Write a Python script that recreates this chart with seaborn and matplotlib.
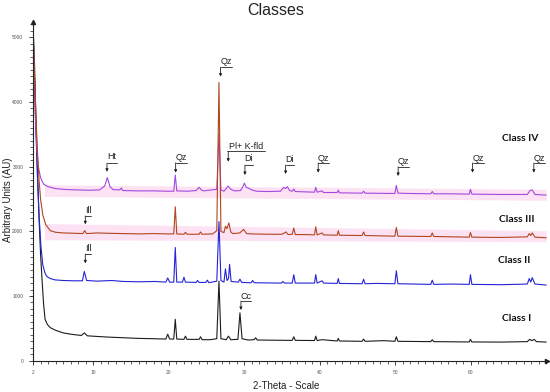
import numpy as np
import pandas as pd
import seaborn as sns
import matplotlib.pyplot as plt
from matplotlib.ticker import MultipleLocator, FixedLocator

# ---------------- data (2-theta, counts) ----------------
class1 = [(2.0,5200),(2.2,4600),(2.4,3700),(2.6,2900),(2.8,2200),(3.0,1650),(3.2,1250),(3.4,880),
          (3.6,640),(3.9,560),(4.3,510),(5.0,470),(6.0,430),(7.0,410),(8.4,390),(8.8,430),(9.2,385),
          (10.5,375),(12.0,365),(14.0,355),(16.0,345),(18.0,340),(19.6,335),(19.85,410),(20.1,335),
          (20.65,335),(20.85,640),(21.05,335),(22.0,330),(22.2,380),(22.4,330),(24.0,330),(24.2,370),
          (24.4,325),(25.5,325),(26.35,340),(26.64,1230),(26.9,340),(27.6,325),(27.9,380),(28.2,325),
          (29.15,330),(29.42,740),(29.7,340),(30.5,320),(31.3,325),(31.5,355),(31.7,320),(35.5,315),
          (36.35,315),(36.55,370),(36.75,315),(39.3,312),(39.46,380),(39.65,312),(40.3,325),(42.3,305),
          (42.45,345),(42.6,305),(45.6,300),(45.8,335),(46.0,300),(48.5,310),(49.95,300),(50.14,370),
          (50.35,300),(54.7,295),(54.9,325),(55.1,295),(59.8,290),(59.96,330),(60.15,290),(64.0,288),
          (67.5,295),(67.8,330),(68.1,310),(68.4,330),(68.7,295),(70.0,288)]

class2 = [(2.0,5150),(2.2,4300),(2.4,3500),(2.6,2800),(2.8,2250),(3.06,1760),(3.3,1480),(3.6,1350),
          (3.85,1300),(4.3,1270),(4.9,1250),(6.0,1240),(7.5,1235),(8.55,1235),(8.8,1380),(9.1,1240),
          (10.5,1230),(12.4,1240),(14.0,1225),(16.0,1220),(18.2,1225),(19.6,1215),(19.85,1280),(20.1,1215),
          (20.65,1215),(20.85,1750),(21.05,1215),(21.8,1215),(22.0,1290),(22.2,1215),(23.6,1210),(23.8,1240),
          (24.0,1210),(24.9,1210),(25.1,1245),(25.3,1205),(26.35,1230),(26.64,2150),(26.9,1240),(27.3,1215),
          (27.5,1420),(27.7,1240),(27.9,1270),(28.05,1490),(28.25,1225),(29.2,1215),(29.42,1260),(29.65,1210),
          (30.9,1205),(31.1,1240),(31.3,1205),(34.9,1200),(35.1,1225),(35.3,1200),(36.35,1200),(36.55,1330),
          (36.75,1200),(39.3,1200),(39.46,1330),(39.65,1200),(40.3,1235),(40.5,1200),(42.3,1195),(42.45,1270),
          (42.6,1195),(45.6,1190),(45.8,1260),(46.0,1190),(47.5,1195),(49.95,1190),(50.14,1390),(50.35,1190),
          (54.7,1180),(54.9,1245),(55.1,1180),(57.4,1185),(59.8,1180),(59.96,1330),(60.15,1180),(64.0,1175),
          (67.5,1185),(67.75,1270),(67.95,1215),(68.15,1285),(68.5,1185),(70.0,1170)]

class3 = [(2.0,5200),(2.2,4400),(2.4,3750),(2.6,3200),(2.8,2800),(3.0,2500),(3.3,2250),(3.7,2100),
          (4.3,2010),(5.0,1985),(6.0,1975),(7.5,1970),(8.6,1965),(8.85,2010),(9.1,1965),(10.5,1975),
          (12.0,1970),(14.0,1965),(16.0,1960),(18.0,1965),(19.8,1960),(20.65,1960),(20.85,2380),(21.05,1960),
          (22.0,1955),(22.2,1985),(22.4,1955),(24.0,1955),(24.2,1990),(24.4,1955),(25.8,1960),(26.35,2010),
          (26.64,4300),(26.9,2000),(27.3,1980),(27.5,2080),(27.7,2040),(27.95,2130),(28.2,1990),(28.5,1965),
          (29.4,1975),(29.9,2030),(30.3,1965),(31.0,1960),(33.0,1955),(35.0,1955),(35.5,1990),(35.8,1950),
          (36.35,1955),(36.55,2050),(36.75,1950),(38.0,1950),(39.3,1945),(39.46,2070),(39.65,1945),(40.3,1975),
          (40.5,1945),(42.3,1940),(42.45,2010),(42.6,1940),(45.6,1935),(45.8,1990),(46.0,1935),(49.95,1925),
          (50.14,2060),(50.35,1925),(54.7,1920),(54.9,1975),(55.1,1920),(59.8,1910),(59.96,1980),(60.15,1910),
          (64.0,1905),(67.5,1915),(67.75,1965),(67.95,1935),(68.15,1975),(68.5,1910),(70.0,1900)]

class4 = [(2.0,5200),(2.15,4500),(2.3,3800),(2.5,3300),(2.7,3000),(3.0,2830),(3.4,2730),(4.0,2690),
          (5.0,2660),(6.5,2645),(8.0,2640),(9.5,2635),(10.8,2640),(11.5,2700),(11.85,2830),(12.2,2690),
          (12.6,2645),(13.5,2640),(13.7,2670),(13.9,2630),(16.0,2625),(18.0,2625),(19.8,2620),(20.65,2620),
          (20.85,2870),(21.05,2625),(22.5,2620),(23.6,2630),(24.0,2680),(24.3,2640),(24.6,2625),(26.35,2650),
          (26.64,3500),(26.9,2640),(27.3,2620),(27.6,2660),(27.85,2700),(28.2,2650),(28.7,2625),(29.5,2630),
          (29.8,2690),(30.0,2745),(30.25,2680),(30.6,2665),(31.0,2640),(31.6,2620),(33.0,2615),(34.8,2620),
          (35.2,2680),(35.45,2660),(35.7,2690),(36.0,2630),(36.35,2620),(36.55,2655),(36.75,2615),(38.0,2610),
          (39.3,2605),(39.46,2680),(39.65,2605),(40.3,2625),(40.5,2600),(42.3,2600),(42.45,2635),(42.6,2595),
          (45.6,2590),(45.8,2620),(46.0,2590),(49.95,2585),(50.14,2710),(50.35,2590),(52.0,2585),(54.7,2580),
          (54.9,2615),(55.1,2580),(57.4,2580),(59.8,2575),(59.96,2650),(60.15,2575),(64.0,2570),(67.5,2570),
          (67.85,2630),(68.15,2640),(68.5,2570),(70.0,2560)]

class_names = ["Class I", "Class II", "Class III", "Class IV"]
class_colors = ["#1c1c1c", "#2424d8", "#b0461e", "#a448e0"]

# pink highlight bands behind class IV and class III traces
band_x = [3.5, 70.0]
band4_lo, band4_hi = [2540, 2480], [2720, 2650]
band3_lo, band3_hi = [1870, 1840], [2120, 2010]

# phase annotations: label, x, text y, elbow y, tip y, elbow length
annotations = [("Ht", 11.8, 3153, 3051, 2921, 1.3),
               ("Qz", 20.9, 3144, 3060, 2906, 1.46),
               ("Qz", 26.85, 4621, 4535, 4390, 1.46),
               ("Di", 30.08, 3128, 3025, 2870, 1.06),
               ("Di", 35.47, 3117, 3025, 2886, 1.06),
               ("Qz", 39.79, 3133, 3056, 2906, 1.46),
               ("Qz", 50.38, 3076, 2998, 2855, 1.46),
               ("Qz", 60.24, 3133, 3056, 2906, 1.46),
               ("Qz", 68.36, 3133, 3056, 2906, 1.46),
               ("Ill", 8.93, 2319, 2237, 2108, 0.8),
               ("Ill", 8.93, 1737, 1649, 1505, 0.8),
               ("Cc", 29.55, 989, 923, 784, 1.3)]

# ---------------- figure ----------------
sns.set_theme(style="ticks")
plt.rcParams['font.family'] = ['Liberation Sans', 'DejaVu Sans']

fig = plt.figure(figsize=(5.5, 3.92), dpi=100)
ax = fig.add_axes([0.06, 0.0798, 0.9345, 0.864])

frames = []
for name, pts in zip(class_names, [class1, class2, class3, class4]):
    t, c = zip(*pts)
    frames.append(pd.DataFrame({"theta": t, "counts": c, "cls": name}))
df = pd.concat(frames, ignore_index=True)

ax.fill_between(band_x, band4_lo, band4_hi, color="#fde2f4", lw=0, zorder=0)
ax.fill_between(band_x, band3_lo, band3_hi, color="#fde2f4", lw=0, zorder=0)

order = ["Class I", "Class II", "Class IV", "Class III"]
pal = dict(zip(class_names, class_colors))
for name in order:
    sub = df[df.cls == name]
    sns.lineplot(data=sub, x="theta", y="counts", color=pal[name], sort=False,
                 estimator=None, linewidth=0.8, ax=ax, legend=False)

ax.set_xlim(2, 70.1)
ax.set_ylim(0, 5235)

for s in ["top", "right"]:
    ax.spines[s].set_visible(False)
for s in ["left", "bottom"]:
    ax.spines[s].set_linewidth(0.8)
    ax.spines[s].set_color("#222222")
ax.plot(1, 0, ">", color="#222222", ms=3, transform=ax.transAxes, clip_on=False)
ax.plot(0, 1, "^", color="#222222", ms=3, transform=ax.transAxes, clip_on=False)

ax.xaxis.set_major_locator(FixedLocator([2, 10, 20, 30, 40, 50, 60]))
ax.xaxis.set_minor_locator(MultipleLocator(1))
ax.yaxis.set_major_locator(MultipleLocator(1000))
ax.yaxis.set_minor_locator(MultipleLocator(100))
ax.tick_params(which="major", length=3, width=0.6, labelsize=3.5, labelcolor="#555555",
               color="#222222", pad=4)
ax.tick_params(which="minor", length=2, width=0.5, color="#222222")

ax.set_xlabel("2-Theta - Scale", fontsize=7, color="#222222")
ax.set_ylabel("Arbitrary Units (AU)", fontsize=7, color="#222222")
ax.xaxis.set_label_coords(0.492, -0.06)
ax.yaxis.set_label_coords(-0.038, 0.474)

fig.text(0.501, 0.972, "Classes", ha="center", va="center", fontsize=11.5, color="#222222")

# phase markers
for lab, xa, yt, yl, ytip, w in annotations:
    ax.plot([xa, xa + w], [yl, yl], color="#222222", lw=0.6)
    ax.annotate("", xy=(xa, ytip), xytext=(xa, yl),
                arrowprops=dict(arrowstyle="-|>", lw=0.6, color="#222222",
                                mutation_scale=4, shrinkA=0, shrinkB=0))
    ax.text(xa + w / 2, yt, lab, ha="center", va="center", fontsize=6.5, color="#222222")

ax.text(30.2, 3308, "Pl+ K-fld", ha="center", va="center", fontsize=6.5, color="#222222")
ax.plot([27.65, 32.73], [3246, 3246], color="#222222", lw=0.6)
ax.annotate("", xy=(27.87, 3076), xytext=(27.87, 3220),
            arrowprops=dict(arrowstyle="-|>", lw=0.6, color="#222222",
                            mutation_scale=4, shrinkA=0, shrinkB=0))

label_pos = [(66.1, 660), (65.7, 1556), (66.1, 2190), (66.5, 3442)]
for name, (lx, ly) in zip(class_names, label_pos):
    ax.text(lx, ly, name, ha="center", va="center", fontsize=7.5, fontweight="bold",
            family=["Lato", "DejaVu Sans"], color="#111111")

fig.savefig("out.png", dpi=100)
